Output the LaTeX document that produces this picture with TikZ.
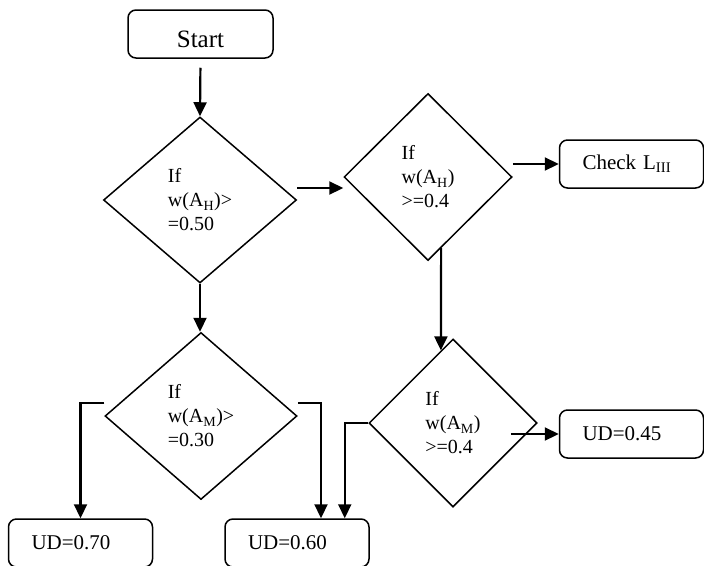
\documentclass[tikz,border=0pt]{standalone}
\usepackage{fontspec}
\setmainfont{Liberation Serif}
\usetikzlibrary{shapes.geometric,arrows.meta,calc}

\begin{document}
\begin{tikzpicture}[x=1pt,y=-1pt,
  decision/.style={diamond, draw, line width=1.5pt, inner sep=0pt, align=left,
    font=\fontsize{20}{24}\selectfont},
  outbox/.style={rectangle, rounded corners=8pt, draw, line width=1.5pt,
    minimum height=48pt, text width=98pt, inner xsep=23pt, inner ysep=0pt,
    align=left, font=\fontsize{21}{25}\selectfont},
  flow/.style={line width=2.2pt, -{Triangle[length=14pt,width=13pt]}},
]
\useasboundingbox (0,0) rectangle (704,565);
\clip (0,0) rectangle (704,565);
\fill[white] (0,0) rectangle (704,565);

% start terminal
\node[rectangle, rounded corners=8pt, draw, line width=1.5pt, minimum width=145pt,
  minimum height=48pt, inner sep=0pt, text height=27pt, text depth=0pt,
  font=\fontsize{25}{30}\selectfont]
  (start) at (200.5,34) {Start};

% decisions
\node[decision, minimum width=193pt, minimum height=166pt] (d1) at (200,200)
  {If\\w(A\textsubscript{H})>\\=0.50};
\node[decision, minimum width=168pt, minimum height=167pt] (d2) at (428,177)
  {If\\w(A\textsubscript{H})\\>=0.4};
\node[decision, minimum width=168pt, minimum height=168pt] (d3) at (453,423)
  {If\\w(A\textsubscript{M})\\>=0.4};
\node[decision, minimum width=192pt, minimum height=167pt] (d4) at (201,416)
  {If\\w(A\textsubscript{M})>\\=0.30};

% outcomes
\node[outbox] (check) at (631.5,164) {Check L\textsubscript{III}};
\node[outbox] (ud45) at (631.5,434) {UD=0.45};
\node[outbox] (ud70) at (80.5,543) {UD=0.70};
\node[outbox] (ud60) at (297,543) {UD=0.60};

% connectors
\draw[flow, shorten <=9pt] (start.south) -- (d1.north);

\coordinate (a1) at ($(d1.east)+(0,-12)$);
\draw[flow] (a1) -- (a1 -| d2.west);

\draw[flow] (check.west -| d2.east) -- (check.west);

\draw[flow] ($(d2.south)!0.155!(d2.east)$) -- ($(d3.north)!0.143!(d3.west)$);

\draw[flow] ($(ud45.west)+(-48,0)$) -- (ud45.west);

\draw[flow] (d1.south) -- (d1.south |- d4.north);

\draw[flow] ($(d4.west)+(0,-13)$) -| (ud70.north);
\draw[flow] ($(d4.east)+(0,-13)$) -| ($(ud60.north)+(24,0)$);
\draw[flow] (d3.west) -| ($(ud60.north east)+(-25,0)$);
\end{tikzpicture}
\end{document}
